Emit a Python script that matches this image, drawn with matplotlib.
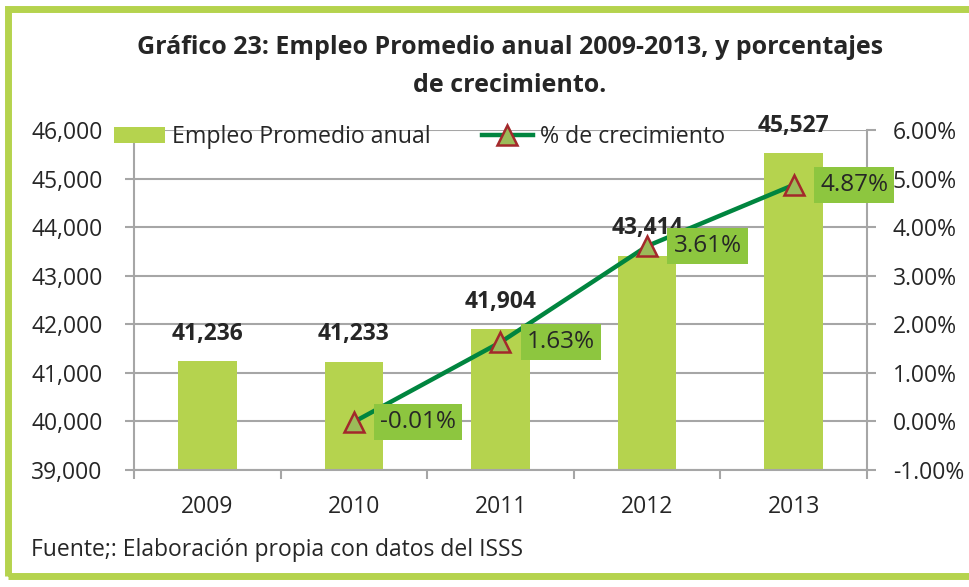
import matplotlib.pyplot as plt
from matplotlib.patches import Rectangle
from matplotlib.ticker import FuncFormatter

years = ["2009", "2010", "2011", "2012", "2013"]
empleo = [41236, 41233, 41904, 43414, 45527]
crecimiento = [None, -0.01, 1.63, 3.61, 4.87]

BAR = "#B5D34E"
LINE = "#00853F"
BOX = "#8DC63F"
GRID = "#A6A6A6"
TXT = "#262626"

plt.rcParams['font.family'] = ['Open Sans', 'DejaVu Sans']

fig = plt.figure(figsize=(9.69, 5.87), dpi=100)

# green frame around the whole figure
fig.patches.append(Rectangle((8 / 969, 11 / 587), 1.2, 1 - 19.5 / 587,
                             transform=fig.transFigure, fill=False,
                             edgecolor=BAR, linewidth=5))

ax = fig.add_axes([134 / 969, 117 / 587, 733 / 969, 340 / 587])
x = list(range(len(years)))
bars = ax.bar(x, empleo, width=0.4, color=BAR, zorder=2, label="Empleo Promedio anual")
ax.set_ylim(39000, 46000)
ax.set_xlim(-0.5, 4.5)
ax.set_yticks(range(39000, 46001, 1000))
ax.yaxis.set_major_formatter(FuncFormatter(lambda v, p: f"{int(v):,}"))
ax.grid(axis='y', color=GRID, linewidth=1.5, zorder=0)
ax.set_axisbelow(True)

# category boundaries carry the ticks, labels sit at the centres
ax.set_xticks([i - 0.5 for i in range(len(years) + 1)])
ax.set_xticklabels([])
ax.set_xticks(x, minor=True)
ax.set_xticklabels(years, minor=True)
ax.tick_params(axis='x', which='minor', length=0, pad=18, labelsize=16.5, labelcolor=TXT)
ax.tick_params(axis='x', which='major', length=6.5, width=1.5, color=GRID)
ax.tick_params(axis='y', length=6.5, width=1.5, color=GRID, labelsize=16.5, labelcolor=TXT, pad=16)

for s in ['top', 'right']:
    ax.spines[s].set_visible(False)
for s in ['left', 'bottom']:
    ax.spines[s].set_color(GRID)
    ax.spines[s].set_linewidth(1.5)

for b, v in zip(bars, empleo):
    ax.annotate(f"{v:,}", (b.get_x() + b.get_width() / 2, v), xytext=(0, 11),
                textcoords='offset points', ha='center', va='bottom',
                fontsize=16.5, fontweight='bold', color=TXT)

ax2 = ax.twinx()
ax2.set_ylim(-1, 6)
ax2.set_yticks(range(-1, 7))
ax2.yaxis.set_major_formatter(FuncFormatter(lambda v, p: f"{v:.2f}%"))
ax2.tick_params(axis='y', length=6.5, width=1.5, color=GRID, labelsize=16.5, labelcolor=TXT, pad=12)
for s in ['top', 'left', 'bottom']:
    ax2.spines[s].set_visible(False)
ax2.spines['right'].set_color(GRID)
ax2.spines['right'].set_linewidth(1.5)

xs = [i for i, c in zip(x, crecimiento) if c is not None]
ys = [c for c in crecimiento if c is not None]
line, = ax2.plot(xs, ys, color=LINE, linewidth=3.2, marker='^', markersize=14,
                 markerfacecolor="#9BBB59", markeredgecolor="#A3282B",
                 markeredgewidth=1.8, zorder=4, label="% de crecimiento")
for xi, yi in zip(xs, ys):
    ax2.annotate(f"{yi:.2f}%", (xi, yi), xytext=(19, 0), textcoords='offset points',
                 ha='left', va='center', fontsize=17.5, color=TXT, zorder=5,
                 bbox=dict(boxstyle='square,pad=0.25', facecolor=BOX, edgecolor='none'))

fig.legend(handles=[bars, line], loc='center left', ncol=2, frameon=False,
           bbox_to_anchor=(93 / 969, 1 - 137 / 587), fontsize=16.7,
           handlelength=2.2, handletextpad=0.3, columnspacing=2.2,
           labelcolor=TXT)

fig.text(510 / 969, 1 - 47 / 587,
         "Gráfico 23: Empleo Promedio anual 2009-2013, y porcentajes",
         ha='center', va='center', fontsize=18, fontweight='bold', color=TXT)
fig.text(510 / 969, 1 - 85 / 587, "de crecimiento.",
         ha='center', va='center', fontsize=18, fontweight='bold', color=TXT)
fig.text(31 / 969, 1 - 550 / 587, "Fuente;: Elaboración propia con datos del ISSS",
         ha='left', va='center', fontsize=16.5, color=TXT)

fig.savefig("out.png", dpi=100)
